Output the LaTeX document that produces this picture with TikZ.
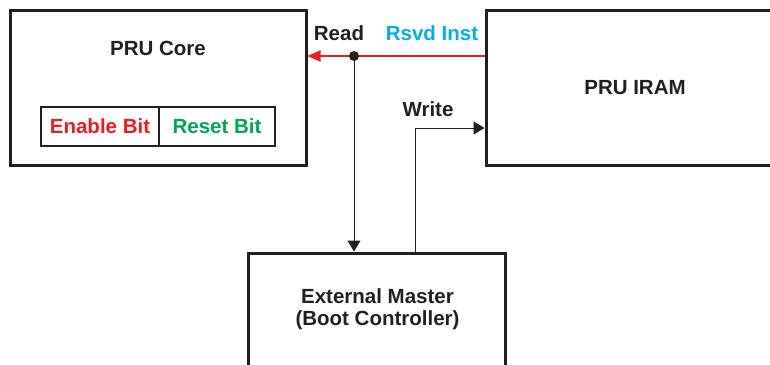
\documentclass[tikz,border=0pt]{standalone}
\usepackage{fontspec}
\setmainfont{Liberation Sans}
\usetikzlibrary{arrows.meta}
\definecolor{txt}{RGB}{35,31,32}
\definecolor{myred}{RGB}{237,28,36}
\definecolor{mygreen}{RGB}{0,166,81}
\definecolor{mycyan}{RGB}{0,174,239}
\begin{document}
\begin{tikzpicture}[x=1pt,y=-1pt,
  box/.style={draw=txt, line width=3pt, rectangle, inner sep=0pt, align=center,
    font=\fontsize{20.5}{22}\selectfont\bfseries, text=txt},
  bitbox/.style={draw=txt, line width=2.5pt, rectangle, inner sep=0pt, minimum height=39pt,
    font=\fontsize{20.5}{23}\selectfont\bfseries},
  lbl/.style={inner sep=0pt, align=center, font=\fontsize{20.5}{22}\selectfont\bfseries, text=txt},
  redarrow/.style={draw=myred, line width=2pt, -{Triangle[length=13pt,width=11pt]}},
  blackarrow/.style={draw=txt, line width=1pt, -{Triangle[length=11pt,width=13pt]}}]
\useasboundingbox (0,0) rectangle (770,364);
\clip (0,0) rectangle (770,364);
\fill[white] (0,0) rectangle (770,364);
% boxes
\node[box, minimum width=296pt, minimum height=155pt] (core) at (158,87.5) {};
\node[lbl] (coretitle) at (158,48) {PRU Core};
\node[bitbox, minimum width=118pt, text=myred] (enable) at (100,126.5) {Enable Bit};
\node[bitbox, minimum width=116pt, text=mygreen] (reset) at (217,126.5) {Reset Bit};
\node[box, minimum width=298pt, minimum height=155pt] (iram) at (635,87.5) {PRU IRAM};
\node[box, minimum width=257pt, minimum height=140pt] (master) at (376.5,323) {};
\node[lbl] (mastertext) at (377.5,309) {External Master\\(Boot Controller)};
% connectors
\coordinate (dot) at (354,56);
\coordinate (wr) at (415,128);
\draw[redarrow] (iram.west |- dot) -- (core.east |- dot);
\fill[txt] (dot) circle (5pt);
\draw[blackarrow] (dot) -- (dot |- master.north);
\draw[blackarrow] (master.north -| wr) -- (wr) -- (wr -| iram.west);
% labels
\node[lbl] (readlbl) at (339,33) {Read};
\node[lbl, text=mycyan] (rsvdlbl) at (432,33) {Rsvd Inst};
\node[lbl] (writelbl) at (428,109) {Write};
\end{tikzpicture}
\end{document}
